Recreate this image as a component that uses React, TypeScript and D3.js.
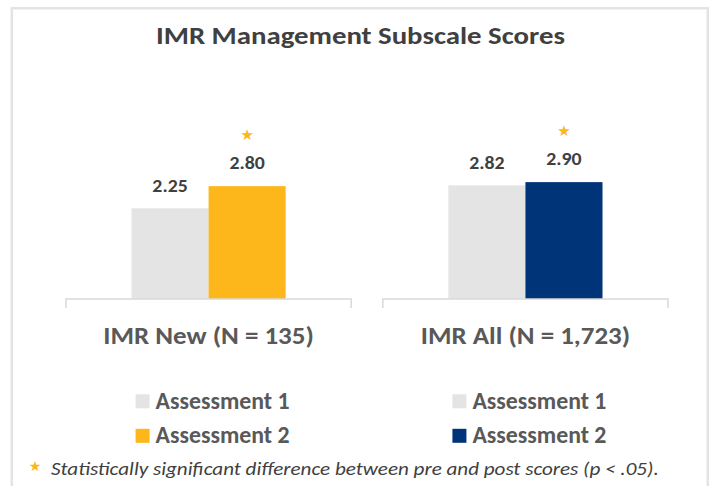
import React from "react";
import * as d3 from "d3";

const title = "IMR Management Subscale Scores";
const groups = ["IMR New (N = 135)", "IMR All (N = 1,723)"];
const assessment1 = [2.25, 2.82];
const assessment2 = [2.8, 2.9];
const significant = [true, true];
const seriesNames = ["Assessment 1", "Assessment 2"];
const a1Color = "#e4e4e4";
const a2Colors = ["#fdb71a", "#003478"];
const footnote = "Statistically significant difference between pre and post scores (p < .05).";

const W = 710;
const H = 486;
const FONT = "Carlito, Lato, 'Open Sans', sans-serif";

export default function App() {
  const x = d3.scaleBand<string>().domain(groups).range([66, 668]).paddingInner(0.1);
  const inner = d3
    .scaleBand<string>()
    .domain(["a1", "a2"])
    .range([0, x.bandwidth()])
    .paddingInner(0)
    .paddingOuter(0.85);
  const y = d3.scaleLinear().domain([0, 3.5]).range([299, 299 - 3.5 * 40.3]);
  const fmt = d3.format(".2f");

  return (
    <svg
      width={W}
      height={H}
      style={{ position: "absolute", left: 0, top: 0, background: "#fff" }}
      fontFamily={FONT}
    >
      <rect x={11.8} y={8.2} width={696} height={490} fill="#fff" stroke="#e3e3e3" strokeWidth={2.5} />
      <text
        transform="translate(360.5,43.5) scale(1.2,1)"
        textAnchor="middle"
        fontSize={24}
        fontWeight={700}
        fill="#404040"
      >
        {title}
      </text>
      {groups.map((g, i) => {
        const gx = x(g)!;
        const bw = inner.bandwidth();
        const cx = gx + x.bandwidth() / 2;
        const x1 = gx + inner("a1")!;
        const x2 = gx + inner("a2")!;
        const vals = [assessment1[i], assessment2[i]];
        const xs = [x1, x2];
        const cols = [a1Color, a2Colors[i]];
        return (
          <g key={g}>
            {vals.map((v, j) => (
              <g key={j}>
                <rect x={xs[j]} y={y(v)} width={bw} height={y(0) - y(v)} fill={cols[j]} />
                <text
                  transform={`translate(${xs[j] + bw / 2},${y(v) - 16.8}) scale(1.1,1)`}
                  textAnchor="middle"
                  fontSize={18}
                  fontWeight={700}
                  fill="#404040"
                >
                  {fmt(v)}
                </text>
              </g>
            ))}
            {significant[i] && (
              <text
                x={x2 + bw / 2}
                y={y(vals[1]) - 46}
                textAnchor="middle"
                fontSize={15}
                fill="#fdb71a"
                fontFamily="DejaVu Sans"
              >
                ★
              </text>
            )}
            <path
              d={`M${gx},308V${y(0)}H${gx + x.bandwidth()}V308`}
              fill="none"
              stroke="#d9d9d9"
              strokeWidth={1.5}
            />
            <text
              transform={`translate(${cx},344.3) scale(1.1,1)`}
              textAnchor="middle"
              fontSize={24.5}
              fontWeight={700}
              fill="#595959"
            >
              {g}
            </text>
            {seriesNames.map((s, j) => (
              <g key={s} transform={`translate(${cx - 73},${401.3 + j * 34.5})`}>
                <rect x={0} y={-7} width={14} height={14} fill={cols[j]} />
                <text
                  transform="translate(20,7.2) scale(0.98,1)"
                  fontSize={24.3}
                  fontWeight={700}
                  fill="#595959"
                >
                  {s}
                </text>
              </g>
            ))}
          </g>
        );
      })}
      <text x={35} y={471} textAnchor="middle" fontSize={14} fill="#fdb71a" fontFamily="DejaVu Sans">
        ★
      </text>
      <text
        transform="translate(51,475) scale(1.14,1)"
        fontSize={18.5}
        fontStyle="italic"
        fill="#404040"
      >
        {footnote}
      </text>
    </svg>
  );
}
